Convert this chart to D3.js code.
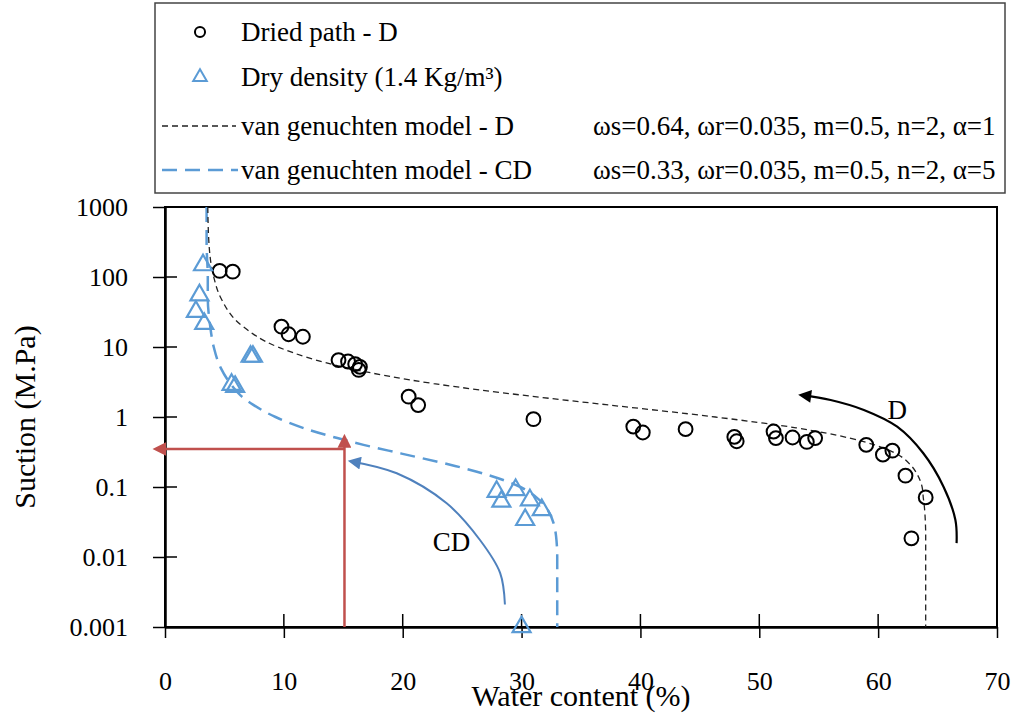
<!DOCTYPE html>
<meta charset="utf-8">
<style>
    body {
        margin: 0;
        background: #fff;
    }
    svg {
        font-family: "Liberation Serif", "Times New Roman", serif;
    }
    text {
        fill: #000;
    }
</style>
<body>
<script src="https://d3js.org/d3.v7.min.js"></script>
<script>
    // Dried path - D (water content %, suction MPa)
    var driedW = [4.6, 5.7, 9.8, 10.4, 11.6, 14.6, 15.4, 16.0, 16.4, 16.3, 20.5, 21.3, 31.0, 39.4, 40.2, 43.8,
                  47.9, 48.1, 51.2, 51.4, 52.8, 54.0, 54.7, 59.0, 60.4, 61.2, 62.3, 64.0, 62.8];
    var driedS = [122, 119, 19.5, 15.2, 14.0, 6.5, 6.2, 5.7, 5.2, 4.7, 1.95, 1.48, 0.93, 0.73, 0.60, 0.67,
                  0.52, 0.45, 0.62, 0.50, 0.51, 0.44, 0.50, 0.40, 0.29, 0.33, 0.145, 0.071, 0.0185];

    // Dry density (1.4 Kg/m3)
    var cdW = [3.2, 2.9, 2.6, 3.3, 7.2, 7.4, 5.6, 5.9, 27.9, 28.3, 29.5, 30.7, 31.7, 30.3, 30.0];
    var cdS = [148, 55, 32, 21.5, 7.3, 7.3, 2.9, 2.7, 0.086, 0.062, 0.091, 0.065, 0.047, 0.034, 0.001];

    // model curves
    var modelSuction = [1000, 300, 100, 50, 20, 10, 5, 3, 2, 1.5, 1, 0.7, 0.5, 0.4, 0.3, 0.2, 0.15, 0.1, 0.07, 0.05, 0.02, 0.01, 0.001];
    var modelD  = [3.6, 3.7, 4.1, 4.7, 6.5, 9.5, 15.4, 22.6, 30.6, 37.1, 46.3, 53.1, 57.6, 59.7, 61.5, 62.8, 63.3, 63.7, 63.8, 63.9, 64.0, 64.0, 64.0];
    var modelCD = [3.5, 3.5, 3.6, 3.6, 3.8, 4.1, 4.7, 5.5, 6.4, 7.4, 9.3, 11.6, 14.5, 16.7, 19.9, 24.4, 27.1, 29.9, 31.3, 32.1, 32.9, 33.0, 33.0];

    // annotation arrows
    var cdArcW = [28.6, 28.2, 26.5, 23.7, 19.5, 15.7];
    var cdArcS = [0.0021, 0.0059, 0.0175, 0.0585, 0.157, 0.232];
    var dArcW = [66.6, 66.5, 65.5, 63.8, 61.6, 58.8, 56.0, 53.6];
    var dArcS = [0.0158, 0.0338, 0.101, 0.303, 0.726, 1.26, 1.75, 2.05];
    var redW = 15.1, redS = 0.35;

    var xTicks = [0, 10, 20, 30, 40, 50, 60, 70];
    var yTicks = [0.001, 0.01, 0.1, 1, 10, 100, 1000];
    var yTickLabels = ["0.001", "0.01", "0.1", "1", "10", "100", "1000"];

    var legendNames = ["Dried path - D", "Dry density (1.4 Kg/m\u00b3)", "van genuchten model - D", "van genuchten model - CD"];
    var legendParams = ["", "", "\u03c9s=0.64, \u03c9r=0.035, m=0.5, n=2, \u03b1=1", "\u03c9s=0.33, \u03c9r=0.035, m=0.5, n=2, \u03b1=5"];

    var blue = "#5b9bd5", arcBlue = "#4f81bd", red = "#c0504d";

    var x = d3.scaleLinear().domain([0, 70]).range([165, 997]);
    var y = d3.scaleLog().domain([0.001, 1000]).range([627, 207]);

    var svg = d3.select("body").append("svg")
        .attr("width", 1014)
        .attr("height", 713);

    var defs = svg.append("defs");
    function arrowHead(id, color, len, wid) {
        defs.append("marker")
            .attr("id", id)
            .attr("markerUnits", "userSpaceOnUse")
            .attr("viewBox", "0 0 10 10")
            .attr("refX", 7)
            .attr("refY", 5)
            .attr("markerWidth", len)
            .attr("markerHeight", wid)
            .attr("orient", "auto")
            .append("path")
            .attr("d", "M0,0 L10,5 L0,10 z")
            .attr("fill", color);
    }
    arrowHead("ahRed", red, 14, 14);
    arrowHead("ahBlue", arcBlue, 14, 13);
    arrowHead("ahBlack", "#000", 15, 13);

    // plot frame
    svg.append("rect")
        .attr("x", x(0)).attr("y", y(1000))
        .attr("width", x(70) - x(0)).attr("height", y(0.001) - y(1000))
        .attr("fill", "none").attr("stroke", "#000").attr("stroke-width", 2);

    // y axis
    var isMajor = function(v) { return Math.abs(Math.log10(v) - Math.round(Math.log10(v))) < 1e-6; };
    var yMinor = y.ticks().filter(function(v) { return !isMajor(v); });

    var gy = svg.append("g").attr("transform", "translate(" + x(0) + ",0)");
    gy.call(d3.axisLeft(y).tickValues(yMinor).tickSize(9).tickSizeOuter(0).tickFormat(""));
    gy.call(d3.axisLeft(y).tickValues(yTicks).tickSize(12).tickSizeOuter(0).tickPadding(25)
        .tickFormat(function(d, i) { return yTickLabels[i]; }));
    gy.selectAll("line").attr("stroke", "#000").attr("stroke-width", 1.5);
    gy.selectAll("path.domain").attr("stroke", "#000").attr("stroke-width", 2.5);
    gy.selectAll("text").attr("font-size", 26).attr("font-family", "Liberation Serif").attr("fill", "#000");
    gy.selectAll(".tick line").filter(function(d) { return isMajor(d); }).attr("x2", -12);
    gy.selectAll(".innerTick").data(yTicks).enter().append("line")
        .attr("x1", 0).attr("x2", 12)
        .attr("y1", function(d) { return y(d); }).attr("y2", function(d) { return y(d); })
        .attr("stroke", "#000").attr("stroke-width", 1.5);

    // x axis
    var xMinor = x.ticks(35).filter(function(v) { return v % 10 !== 0; });
    var gx = svg.append("g").attr("transform", "translate(0," + y(0.001) + ")");
    gx.call(d3.axisBottom(x).tickValues(xMinor).tickSize(10).tickSizeOuter(0).tickFormat(""));
    gx.call(d3.axisBottom(x).tickValues(xTicks).tickSize(11).tickSizeOuter(0).tickPadding(34));
    gx.selectAll("line").attr("stroke", "#000").attr("stroke-width", 1.5);
    gx.selectAll("path.domain").attr("stroke", "#000").attr("stroke-width", 2.5);
    gx.selectAll("text").attr("font-size", 26).attr("font-family", "Liberation Serif").attr("fill", "#000");
    gx.selectAll(".innerTick").data(xTicks).enter().append("line")
        .attr("x1", function(d) { return x(d); }).attr("x2", function(d) { return x(d); })
        .attr("y1", 0).attr("y2", -13)
        .attr("stroke", "#000").attr("stroke-width", 1.5);

    // axis titles
    svg.append("text")
        .attr("x", (x(0) + x(70)) / 2).attr("y", 706)
        .attr("text-anchor", "middle").attr("font-size", 30)
        .text("Water content (%)");
    svg.append("text")
        .attr("transform", "translate(35," + (y(0.001) + y(1000)) / 2 + ") rotate(-90)")
        .attr("text-anchor", "middle").attr("font-size", 30)
        .text("Suction (M.Pa)");

    // model curves
    var curveLine = d3.line()
        .x(function(d) { return x(d[0]); })
        .y(function(d) { return y(d[1]); })
        .curve(d3.curveMonotoneY);

    svg.append("path")
        .datum(modelCD.map(function(w, i) { return [w, modelSuction[i]]; }))
        .attr("d", curveLine)
        .attr("fill", "none").attr("stroke", blue).attr("stroke-width", 2.5)
        .attr("stroke-dasharray", "15,8");

    svg.append("path")
        .datum(modelD.map(function(w, i) { return [w, modelSuction[i]]; }))
        .attr("d", curveLine)
        .attr("fill", "none").attr("stroke", "#222").attr("stroke-width", 1.3)
        .attr("stroke-dasharray", "6,4");

    // red read-off lines
    svg.append("line")
        .attr("x1", x(redW)).attr("y1", y(0.001))
        .attr("x2", x(redW)).attr("y2", y(0.5))
        .attr("stroke", red).attr("stroke-width", 2.5)
        .attr("marker-end", "url(#ahRed)");
    svg.append("line")
        .attr("x1", x(redW)).attr("y1", y(redS))
        .attr("x2", x(-0.7)).attr("y2", y(redS))
        .attr("stroke", red).attr("stroke-width", 2.5)
        .attr("marker-end", "url(#ahRed)");

    // arc arrows
    var arcLine = d3.line()
        .x(function(d) { return x(d[0]); })
        .y(function(d) { return y(d[1]); })
        .curve(d3.curveCatmullRom);

    svg.append("path")
        .datum(cdArcW.map(function(w, i) { return [w, cdArcS[i]]; }))
        .attr("d", arcLine)
        .attr("fill", "none").attr("stroke", arcBlue).attr("stroke-width", 2)
        .attr("marker-end", "url(#ahBlue)");
    svg.append("path")
        .datum(dArcW.map(function(w, i) { return [w, dArcS[i]]; }))
        .attr("d", arcLine)
        .attr("fill", "none").attr("stroke", "#000").attr("stroke-width", 2.2)
        .attr("marker-end", "url(#ahBlack)");

    svg.append("text")
        .attr("x", x(24.1)).attr("y", y(0.0166) + 9)
        .attr("text-anchor", "middle").attr("font-size", 27)
        .text("CD");
    svg.append("text")
        .attr("x", x(61.6)).attr("y", y(1.26) + 9)
        .attr("text-anchor", "middle").attr("font-size", 27)
        .text("D");

    // points
    var circ = d3.symbol().type(d3.symbolCircle).size(150);
    var tri = d3.symbol().type(d3.symbolTriangle).size(140);

    svg.selectAll(".dried")
        .data(driedW.map(function(w, i) { return [w, driedS[i]]; }))
        .enter().append("path")
        .attr("class", "dried")
        .attr("d", circ)
        .attr("transform", function(d) { return "translate(" + x(d[0]) + "," + y(d[1]) + ")"; })
        .attr("fill", "none").attr("stroke", "#000").attr("stroke-width", 2);

    svg.selectAll(".cd")
        .data(cdW.map(function(w, i) { return [w, cdS[i]]; }))
        .enter().append("path")
        .attr("class", "cd")
        .attr("d", tri)
        .attr("transform", function(d) { return "translate(" + x(d[0]) + "," + y(d[1]) + ")"; })
        .attr("fill", "none").attr("stroke", blue).attr("stroke-width", 2.2);

    // legend
    var rowY = [32, 77, 126, 170];
    svg.append("rect")
        .attr("x", 155).attr("y", 3).attr("width", 850).attr("height", 190)
        .attr("fill", "#fff").attr("stroke", "#444").attr("stroke-width", 1.5);

    var leg = svg.append("g");
    leg.append("path")
        .attr("d", d3.symbol().type(d3.symbolCircle).size(80))
        .attr("transform", "translate(200," + rowY[0] + ")")
        .attr("fill", "none").attr("stroke", "#000").attr("stroke-width", 2);
    leg.append("path")
        .attr("d", d3.symbol().type(d3.symbolTriangle).size(80))
        .attr("transform", "translate(200," + rowY[1] + ")")
        .attr("fill", "none").attr("stroke", blue).attr("stroke-width", 2);
    leg.append("line")
        .attr("x1", 162).attr("x2", 236).attr("y1", rowY[2]).attr("y2", rowY[2])
        .attr("stroke", "#222").attr("stroke-width", 1.3).attr("stroke-dasharray", "6,4");
    leg.append("line")
        .attr("x1", 162).attr("x2", 238).attr("y1", rowY[3]).attr("y2", rowY[3])
        .attr("stroke", blue).attr("stroke-width", 2.5).attr("stroke-dasharray", "15,8");

    leg.selectAll(".lname").data(legendNames).enter().append("text")
        .attr("x", 241).attr("y", function(d, i) { return rowY[i] + 9; })
        .attr("font-size", 27)
        .text(function(d) { return d; });
    leg.selectAll(".lparam").data(legendParams).enter().append("text")
        .attr("x", 593).attr("y", function(d, i) { return rowY[i] + 9; })
        .attr("font-size", 27)
        .text(function(d) { return d; });
</script>
</body>
